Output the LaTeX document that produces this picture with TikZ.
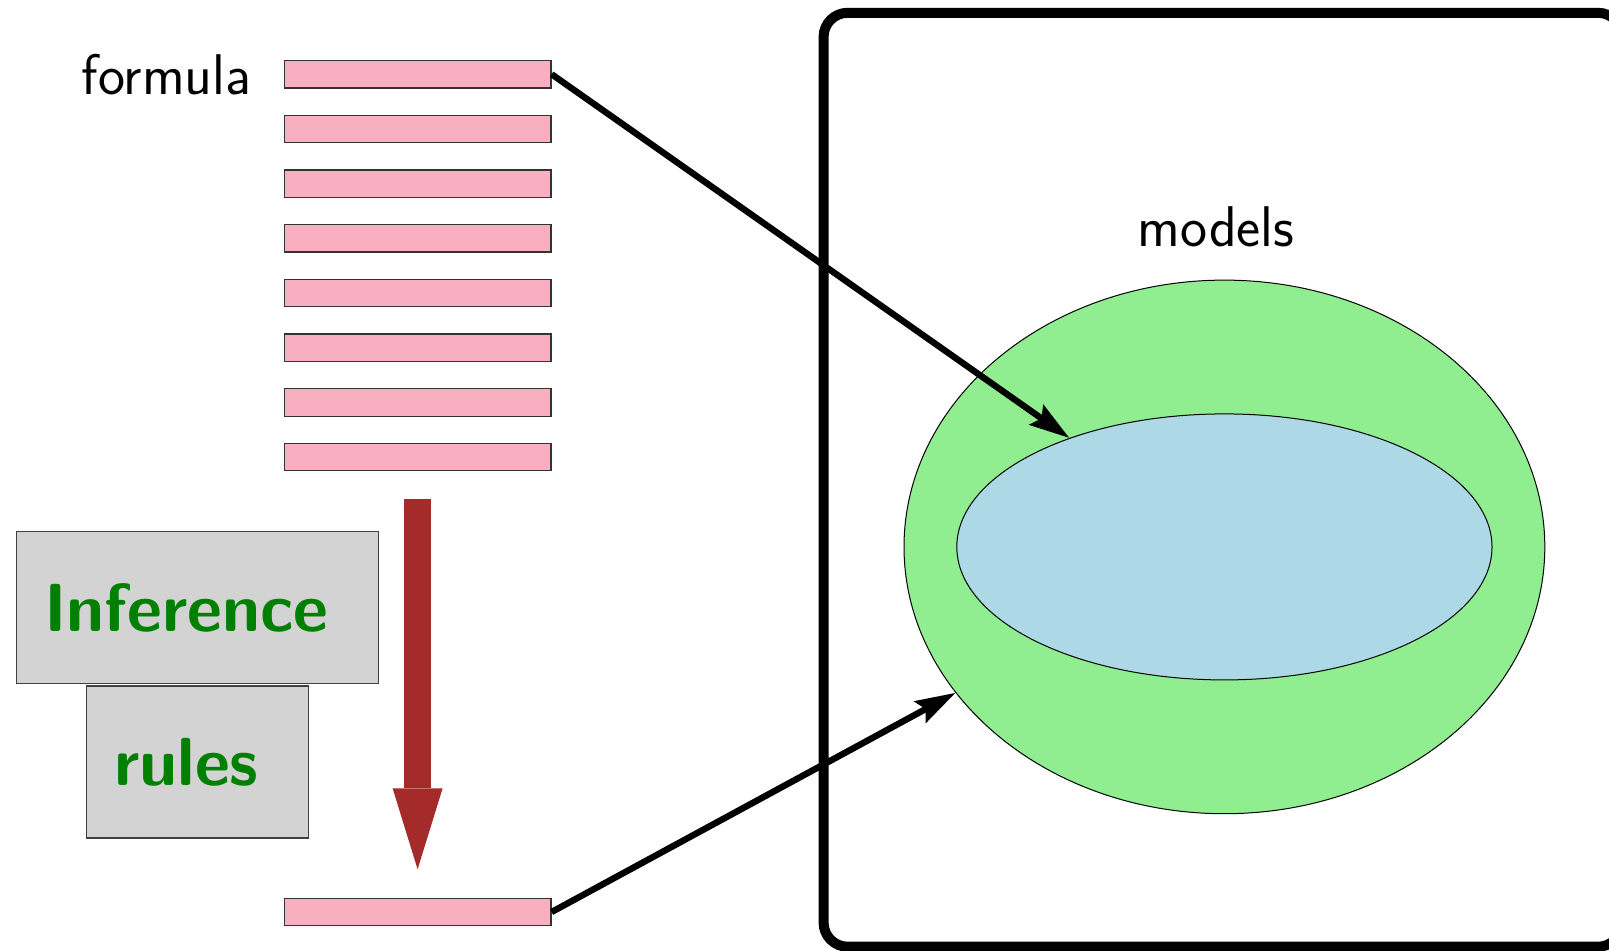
\documentclass[tikz,border=0pt]{standalone}
\usetikzlibrary{arrows.meta,positioning,shapes.geometric}

\definecolor{barpink}{RGB}{248,176,192}
\definecolor{boxgray}{RGB}{211,211,211}
\definecolor{rulegreen}{RGB}{0,128,0}
\definecolor{arrowred}{RGB}{165,42,42}
\definecolor{modelgreen}{RGB}{144,238,144}
\definecolor{modelblue}{RGB}{173,216,230}

\begin{document}
\begin{tikzpicture}[
  x=0.5pt, y=-0.5pt,
  node distance=13.05pt,
  bar/.style={draw=black!80, line width=0.6pt, fill=barpink, inner sep=0pt,
    minimum width=133.4pt, minimum height=13.7pt},
  rulebox/.style={draw=black!75, line width=0.7pt, fill=boxgray, inner sep=0pt,
    minimum height=76pt},
  rulefont/.style={font=\fontsize{34}{41}\selectfont\sffamily\bfseries,
    text=rulegreen, inner sep=0pt},
  txt/.style={font=\fontsize{28.7}{34}\selectfont\sffamily, inner sep=0pt},
  region/.style={ellipse, draw=black, line width=0.5pt, inner sep=0pt},
  conn/.style={-{Stealth[length=20pt, width=12pt, inset=3pt]}, line width=3.2pt},
  derive/.style={-{Triangle[length=40.5pt, width=25pt, line width=0pt]},
    line width=13.7pt, draw=arrowred, shorten <=14pt, shorten >=14.2pt},
]
\useasboundingbox (0,0) rectangle (1609,950);

% premises, stacked downwards
\node[bar] (f1) at (417.6,74.2) {};
\foreach \i [remember=\i as \j (initially 1)] in {2,...,8}
  \node[bar, below=of f\j] (f\i) {};
\node[txt, left=16pt of f1] (formula) {formula};
\node[bar, below=213.15pt of f8] (result) {};

% the derivation step
\draw[derive] (f8.south) -- (result.north);
\node[rulebox, minimum width=181.1pt] (infbox) at (197.5,607.5) {};
\node[rulebox, minimum width=110.8pt, below=0.6pt of infbox] (rulesbox) {};
\node[rulefont] (inftext) at ([xshift=-5.6pt]infbox.center) {Inference};
\node[rulefont] (rulestext) at ([xshift=-5.6pt]rulesbox.center) {rules};

% semantic side
\draw[line width=5pt, rounded corners=12pt] (823.6,12.8) rectangle (1622,946.7);
\node[region, fill=modelgreen, minimum width=320.4pt, minimum height=266.8pt]
  (outer) at (1224.4,546.9) {};
\node[region, fill=modelblue, minimum width=267.6pt, minimum height=133pt]
  (inner) at (1224.4,546.9) {};
\node[txt] (models) at (1216,226.7) {models};

\draw[conn] (f1.east) -- (inner);
\draw[conn] (result.east) -- (outer);
\end{tikzpicture}
\end{document}
